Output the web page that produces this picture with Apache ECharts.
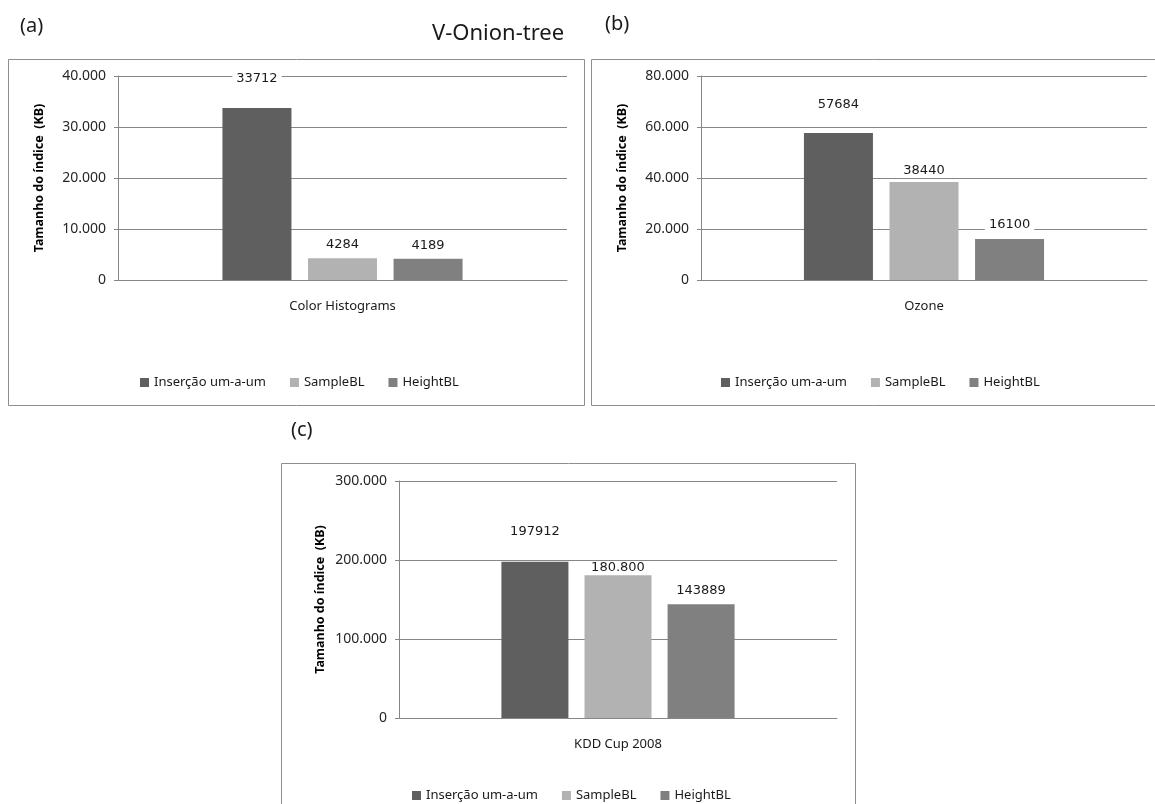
<!DOCTYPE html>
<html>
<head>
<meta charset="utf-8">
<title>V-Onion-tree</title>
<script src="https://cdn.jsdelivr.net/npm/echarts@6/dist/echarts.min.js"></script>
<style>
  html, body { margin: 0; padding: 0; background: #ffffff; }
  #chart { width: 1155px; height: 804px; }
</style>
</head>
<body>
<div id="chart"></div>
<script>
// Series names shared by the three panels
const seriesNames = ['Inserção um-a-um', 'SampleBL', 'HeightBL'];

// Panel (a): Color Histograms
const categoriesA = ['Color Histograms'];
const valuesA = [33712, 4284, 4189];
const yTicksA = [0, 10000, 20000, 30000, 40000];

// Panel (b): Ozone
const categoriesB = ['Ozone'];
const valuesB = [57684, 38440, 16100];
const yTicksB = [0, 20000, 40000, 60000, 80000];

// Panel (c): KDD Cup 2008
const categoriesC = ['KDD Cup 2008'];
const valuesC = [197912, 180800, 143889];
const yTicksC = [0, 100000, 200000, 300000];

const barColors = ['#5f5f5f', '#b2b2b2', '#808080'];
const gridColor = '#868686';
const frameColor = '#8e8e8e';
const textFont = '"Noto Sans", "Open Sans", sans-serif';
const valueFont = '"DejaVu Sans", Verdana, sans-serif';

// thousands separator with a dot: 40000 -> "40.000"
function dotted(v) {
  return String(v).replace(/\B(?=(\d{3})+(?!\d))/g, '.');
}

const panels = [
  { cats: categoriesA, vals: valuesA, ticks: yTicksA,
    grid: { left: 118, top: 76, width: 449, height: 204 },
    barWidth: 69, labelDist: [22, 6, 6], dottedLabel: [false, false, false] },
  { cats: categoriesB, vals: valuesB, ticks: yTicksB,
    grid: { left: 701, top: 76, width: 446, height: 204 },
    barWidth: 69, labelDist: [21, 4, 7], dottedLabel: [false, false, false] },
  { cats: categoriesC, vals: valuesC, ticks: yTicksC,
    grid: { left: 399, top: 481, width: 438, height: 237 },
    barWidth: 67, labelDist: [23, 0, 6], dottedLabel: [false, true, false] }
];

const grids = [], xAxes = [], yAxes = [], series = [];

panels.forEach(function (p, pi) {
  grids.push(Object.assign({ containLabel: false }, p.grid));
  const step = p.ticks[1] - p.ticks[0];
  xAxes.push({
    type: 'category', gridIndex: pi, data: p.cats,
    axisLine: { show: true, lineStyle: { color: gridColor, width: 1 } },
    axisTick: { show: false },
    axisLabel: { color: '#1a1a1a', fontFamily: textFont, fontSize: 13, margin: 20 },
    splitLine: { show: false }
  });
  yAxes.push({
    type: 'value', gridIndex: pi,
    min: p.ticks[0], max: p.ticks[p.ticks.length - 1], interval: step,
    name: 'Tamanho do índice  (KB)',
    nameLocation: 'middle', nameRotate: 90, nameGap: 72,
    nameTextStyle: { color: '#000000', fontFamily: textFont, fontSize: 12.5, fontWeight: 'bold' },
    axisLine: { show: true, lineStyle: { color: gridColor, width: 1 } },
    axisTick: { show: true, inside: false, length: 4, lineStyle: { color: gridColor } },
    axisLabel: {
      color: '#262626', fontFamily: textFont, fontSize: 14, margin: 12,
      formatter: function (v) { return dotted(v); }
    },
    splitLine: { show: true, lineStyle: { color: gridColor, width: 1 } }
  });
  seriesNames.forEach(function (name, si) {
    const useDots = p.dottedLabel[si];
    series.push({
      type: 'bar', name: name,
      xAxisIndex: pi, yAxisIndex: pi,
      barWidth: p.barWidth, barGap: '24%',
      itemStyle: { color: barColors[si] },
      label: {
        show: true, position: 'top',
        color: '#1a1a1a', fontFamily: valueFont, fontSize: 13,
        backgroundColor: useDots ? 'transparent' : '#ffffff',
        padding: [1, 4],
        formatter: function (d) { return useDots ? dotted(d.value) : String(d.value); }
      },
      data: [{ value: p.vals[si], label: { distance: p.labelDist[si] } }]
    });
  });
});

const legendBase = {
  data: seriesNames, orient: 'horizontal',
  itemWidth: 9, itemHeight: 9, itemGap: 24, padding: 0,
  icon: 'rect', selectedMode: true,
  textStyle: { color: '#1a1a1a', fontFamily: textFont, fontSize: 13 }
};

const option = {
  backgroundColor: '#ffffff',
  animation: false,
  title: {
    text: 'V-Onion-tree', left: 427, top: 18,
    textStyle: { color: '#1a1a1a', fontFamily: textFont, fontSize: 22, fontWeight: 'normal' }
  },
  legend: [
    Object.assign({ left: 140, top: 376 }, legendBase),
    Object.assign({ left: 721, top: 376 }, legendBase),
    Object.assign({ left: 412, top: 789 }, legendBase)
  ],
  grid: grids,
  xAxis: xAxes,
  yAxis: yAxes,
  series: series,
  graphic: [
    { type: 'rect', silent: true, z: -1,
      shape: { x: 8.5, y: 59.5, width: 576, height: 346 },
      style: { fill: 'none', stroke: frameColor, lineWidth: 1 } },
    { type: 'rect', silent: true, z: -1,
      shape: { x: 591.5, y: 59.5, width: 580, height: 346 },
      style: { fill: 'none', stroke: frameColor, lineWidth: 1 } },
    { type: 'rect', silent: true, z: -1,
      shape: { x: 281.5, y: 463.5, width: 574, height: 380 },
      style: { fill: 'none', stroke: frameColor, lineWidth: 1 } },
    { type: 'text', left: 20, top: 16,
      style: { text: '(a)', fill: '#1a1a1a', font: '20px ' + textFont } },
    { type: 'text', left: 605, top: 14,
      style: { text: '(b)', fill: '#1a1a1a', font: '20px ' + textFont } },
    { type: 'text', left: 291, top: 420,
      style: { text: '(c)', fill: '#1a1a1a', font: '20px ' + textFont } }
  ]
};

const chart = echarts.init(document.getElementById('chart'), null, { renderer: 'canvas' });
chart.setOption(option);
</script>
</body>
</html>
